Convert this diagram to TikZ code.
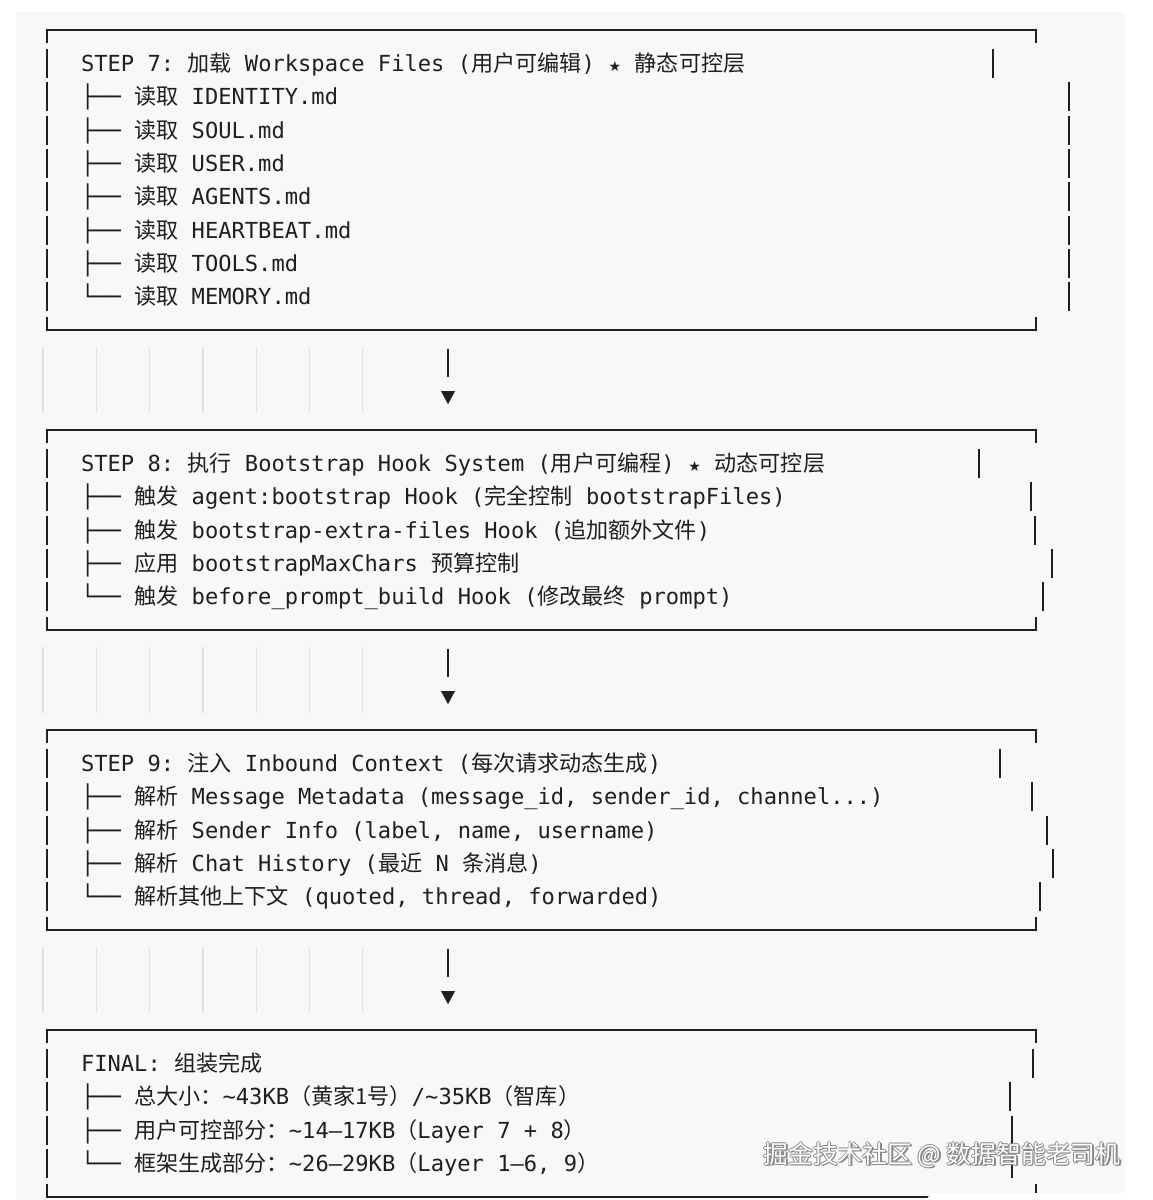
\documentclass[tikz,border=0pt]{standalone}
\usepackage{fontspec}
\usepackage{tikz}
\setmonofont{DejaVu Sans Mono}
\newfontfamily\zhfont{Noto Sans CJK SC}
\newfontfamily\symfont{DejaVu Sans}
\newcommand\zh[1]{{\zhfont #1}}
\newcommand\stern{\makebox[0.602em]{\symfont\fontsize{7}{7}\selectfont ★}}
\newcommand\rowy[1]{(30+33.333*(#1))}
\definecolor{bgcol}{HTML}{F8F8F8}
\definecolor{inkcol}{HTML}{1F1F1F}
\definecolor{guidecol}{HTML}{E2E2E2}
\definecolor{wmshade}{HTML}{8A8A8A}

% one frame: top row, bottom row, x of each right bar
\newcommand\stepframe[3]{%
  \draw[frame] (47,{\rowy{#1}+13}) -- (47,{\rowy{#1}}) -- (1036,{\rowy{#1}}) -- (1036,{\rowy{#1}+13});
  \draw[frame] (47,{\rowy{#2}-13}) -- (47,{\rowy{#2}}) -- (1036,{\rowy{#2}}) -- (1036,{\rowy{#2}-13});
  \foreach \rx [count=\i] in {#3} {
    \draw[frame] (47,{\rowy{#1+\i}-14.5}) -- ++(0,29);
    \draw[frame] (\rx,{\rowy{#1+\i}-14.5}) -- ++(0,29);
  }
}

\begin{document}
\begin{tikzpicture}[x=0.5pt, y=-0.5pt,
    frame/.style={draw=inkcol, line width=1pt},
    guide/.style={draw=guidecol, line width=0.6pt},
    row/.style={anchor=base west, inner sep=0, text=inkcol,
      font=\fontsize{11.05}{13}\selectfont\ttfamily},
    wm/.style={inner sep=0, font=\zhfont\fontsize{12.4}{14}\selectfont}]
    \useasboundingbox (0,0) rectangle (1152,1200);
    \fill[white] (0,0) rectangle (1152,1200);
    \fill[bgcol] (16,12) rectangle (1125,1200);

    % column guides in the gaps
    \foreach \g in {10,19,28}
        \foreach \k in {0,...,6}
            \draw[guide] ({43+53.3*\k},{\rowy{\g}-16}) -- ({43+53.3*\k},{\rowy{\g+1}+16});

    % frames
    \stepframe{0}{9}{993,1069,1069,1069,1069,1069,1069,1069}
    \stepframe{12}{18}{979,1031,1035,1052,1043}
    \stepframe{21}{27}{1000,1032,1047,1053,1040}
    \stepframe{30}{35}{1033,1010,1012,1012}

    % STEP 7
    \node[row] (s7) at (80.6,{\rowy{1}+8}) {STEP 7: \zh{加载} Workspace Files (\zh{用户可编辑}) \stern{} \zh{静态可控层}};
    \foreach \f [count=\i] in {IDENTITY,SOUL,USER,AGENTS,HEARTBEAT,TOOLS}
        \node[row] (s7-\i) at (80.6,{\rowy{1+\i}+8}) {├── \zh{读取} \f.md};
    \node[row] (s7-7) at (80.6,{\rowy{8}+8}) {└── \zh{读取} MEMORY.md};

    % STEP 8
    \node[row] (s8) at (80.6,{\rowy{13}+8}) {STEP 8: \zh{执行} Bootstrap Hook System (\zh{用户可编程}) \stern{} \zh{动态可控层}};
    \node[row] (s8-1) at (80.6,{\rowy{14}+8}) {├── \zh{触发} agent:bootstrap Hook (\zh{完全控制} bootstrapFiles)};
    \node[row] (s8-2) at (80.6,{\rowy{15}+8}) {├── \zh{触发} bootstrap-extra-files Hook (\zh{追加额外文件})};
    \node[row] (s8-3) at (80.6,{\rowy{16}+8}) {├── \zh{应用} bootstrapMaxChars \zh{预算控制}};
    \node[row] (s8-4) at (80.6,{\rowy{17}+8}) {└── \zh{触发} before\_prompt\_build Hook (\zh{修改最终} prompt)};

    % STEP 9
    \node[row] (s9) at (80.6,{\rowy{22}+8}) {STEP 9: \zh{注入} Inbound Context (\zh{每次请求动态生成})};
    \node[row] (s9-1) at (80.6,{\rowy{23}+8}) {├── \zh{解析} Message Metadata (message\_id, sender\_id, channel...)};
    \node[row] (s9-2) at (80.6,{\rowy{24}+8}) {├── \zh{解析} Sender Info (label, name, username)};
    \node[row] (s9-3) at (80.6,{\rowy{25}+8}) {├── \zh{解析} Chat History (\zh{最近} N \zh{条消息})};
    \node[row] (s9-4) at (80.6,{\rowy{26}+8}) {└── \zh{解析其他上下文} (quoted, thread, forwarded)};

    % FINAL
    \node[row] (fin) at (80.6,{\rowy{31}+8}) {FINAL: \zh{组装完成}};
    \node[row] (fin-1) at (80.6,{\rowy{32}+8}) {├── \zh{总大小：}\textasciitilde 43KB\zh{（黄家1号）}/\textasciitilde 35KB\zh{（智库）}};
    \node[row] (fin-2) at (80.6,{\rowy{33}+8}) {├── \zh{用户可控部分：}\textasciitilde 14–17KB\zh{（}Layer 7 + 8\zh{）}};
    \node[row] (fin-3) at (80.6,{\rowy{34}+8}) {└── \zh{框架生成部分：}\textasciitilde 26–29KB\zh{（}Layer 1–6, 9\zh{）}};

    % arrows between the frames
    \foreach \g [count=\i] in {10,19,28} {
        \coordinate (a\i) at (448,{\rowy{\g}-14});
        \coordinate (a\i e) at (448,{\rowy{\g}+14});
        \coordinate (t\i) at (448,{\rowy{\g+1}+7.5});
        \draw[frame] (a\i) -- (a\i e);
        \fill[inkcol] (t\i) -- ++(-7,-13) -- ++(14,0) -- cycle;
    }

    % corner patch and watermark
    \fill[white, rounded corners=6pt] (925,1193) rectangle (1190,1240);
    \coordinate (wmpos) at (942,1155);
    \foreach \dx/\dy in {1.6/1.6,-0.9/0,0.9/0,0/-0.9,0/0.9}
        \node[wm, text=wmshade] at ([shift={(\dx,\dy)}]wmpos) {掘金技术社区 @ 数据智能老司机};
    \node[wm, text=white] (wm) at (wmpos) {掘金技术社区 @ 数据智能老司机};
\end{tikzpicture}
\end{document}
